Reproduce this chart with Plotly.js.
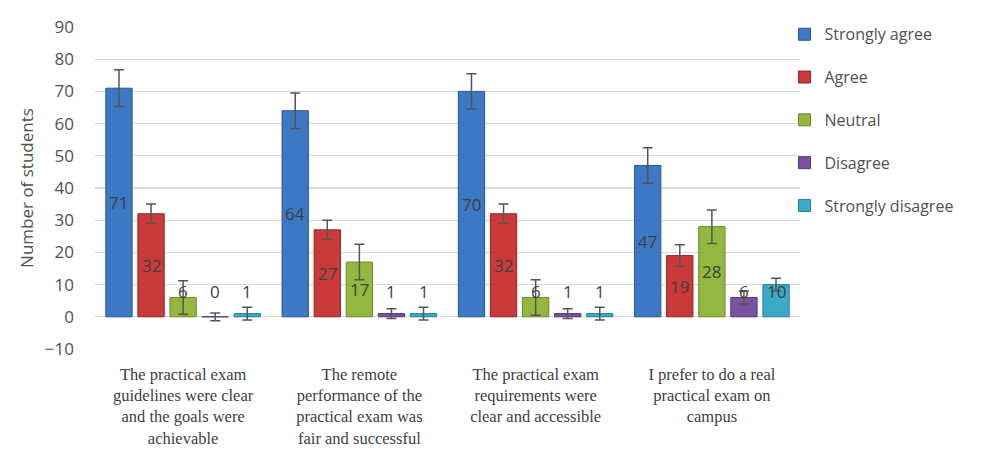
<!DOCTYPE html>
<html>
<head>
<meta charset="utf-8">
<script src="https://cdn.plot.ly/plotly-3.0.1.min.js"></script>
<style>html,body{margin:0;padding:0;background:#fff;}#chart{width:981px;height:461px;}</style>
</head>
<body>
<div id="chart"></div>
<script>
const categories = [
  "The practical exam<br>guidelines were clear<br>and the goals were<br>achievable",
  "The remote<br>performance of the<br>practical exam was<br>fair and successful",
  "The practical exam<br>requirements were<br>clear and accessible",
  "I prefer to do a real<br>practical exam on<br>campus"
];
const seriesNames = ["Strongly agree", "Agree", "Neutral", "Disagree", "Strongly disagree"];
const stronglyAgree = [71, 64, 70, 47];
const agree = [32, 27, 32, 19];
const neutral = [6, 17, 6, 28];
const disagree = [0, 1, 1, 6];
const stronglyDisagree = [1, 1, 1, 10];
const errStronglyAgree = [5.7, 5.5, 5.5, 5.5];
const errAgree = [3, 3, 3, 3.4];
const errNeutral = [5.2, 5.5, 5.5, 5.2];
const errDisagree = [1.2, 1.5, 1.5, 2];
const errStronglyDisagree = [2, 2, 2, 2];
const yTicks = [-10, 0, 10, 20, 30, 40, 50, 60, 70, 80, 90];

const values = [stronglyAgree, agree, neutral, disagree, stronglyDisagree];
const errs = [errStronglyAgree, errAgree, errNeutral, errDisagree, errStronglyDisagree];
const colors = ["#3d78c4", "#c93a38", "#93b83f", "#7a52a3", "#3aaac8"];
const lines = ["#2a578f", "#8f2624", "#6a8a2a", "#553875", "#27809a"];
const xIdx = categories.map((c, i) => i);
const bargap = 0.09;

const traces = values.map((v, k) => ({
  type: "bar",
  name: seriesNames[k],
  legendgroup: "g" + k,
  x: xIdx,
  y: v,
  marker: {color: colors[k], line: {color: lines[k], width: 1}},
  error_y: {type: "data", array: errs[k], visible: true, color: "#555555", thickness: 1.5, width: 5},
  hoverinfo: "y"
}));

const slot = (1 - bargap) / seriesNames.length;
const annotations = [];
values.forEach((v, k) => {
  v.forEach((val, i) => {
    annotations.push({
      x: i + (k - (seriesNames.length - 1) / 2) * slot,
      y: Math.max(val / 2, 7.8),
      xref: "x", yref: "y",
      text: String(val),
      showarrow: false,
      font: {family: "Open Sans, sans-serif", size: 17, color: "#404040"},
      xanchor: "center", yanchor: "middle"
    });
  });
});

const layout = {
  width: 981, height: 461,
  margin: {l: 95, r: 181, t: 27, b: 112},
  paper_bgcolor: "#ffffff", plot_bgcolor: "#ffffff",
  barmode: "group", bargap: bargap, bargroupgap: 0.18,
  showlegend: true,
  legend: {x: 0.978, xanchor: "left", y: 1.03, yanchor: "top",
    font: {family: "Open Sans, sans-serif", size: 16, color: "#505050"},
    tracegroupgap: 19, traceorder: "grouped", bgcolor: "rgba(0,0,0,0)"},
  xaxis: {
    range: [-0.5, 3.5], tickmode: "array", tickvals: xIdx, ticktext: categories,
    showgrid: false, zeroline: false, showline: false, ticks: "",
    ticklabelstandoff: 13,
    tickfont: {family: "Liberation Serif, serif", size: 16.5, color: "#404040"}
  },
  yaxis: {
    range: [-10, 90], tickmode: "array", tickvals: yTicks,
    showgrid: true, gridcolor: "#d9d9d9", gridwidth: 1.2,
    zeroline: false, showline: false, ticks: "",
    ticklabelstandoff: 20,
    tickfont: {family: "Open Sans, sans-serif", size: 17, color: "#505050"},
    title: {text: "Number of students", standoff: 6, font: {family: "Open Sans, sans-serif", size: 17, color: "#505050"}}
  },
  annotations: annotations
};

Plotly.newPlot("chart", traces, layout, {displayModeBar: false, staticPlot: true});
</script>
</body>
</html>
